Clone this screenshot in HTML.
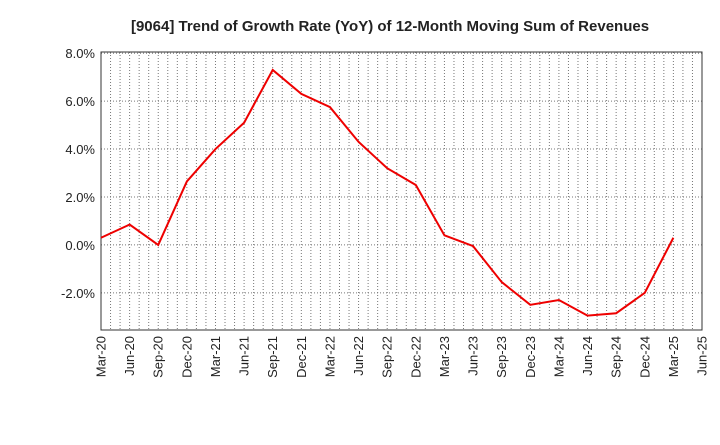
<!DOCTYPE html>
<html><head><meta charset="utf-8"><style>
body{margin:0;background:#fff;font-family:"Liberation Sans",sans-serif}
svg text{font-family:"Liberation Sans",sans-serif}
</style></head><body>
<svg width="720" height="440">
<text x="390" y="31" text-anchor="middle" font-size="15" font-weight="bold" fill="#222">[9064]  Trend of Growth Rate (YoY) of 12-Month Moving Sum of Revenues</text>
<g id="grid"></g><g id="axes"></g><g id="series"></g>
</svg>
<script>
const categories=["Mar-20","Jun-20","Sep-20","Dec-20","Mar-21","Jun-21","Sep-21","Dec-21","Mar-22","Jun-22","Sep-22","Dec-22","Mar-23","Jun-23","Sep-23","Dec-23","Mar-24","Jun-24","Sep-24","Dec-24","Mar-25","Jun-25"];
const values=[0.3,0.85,0.0,2.65,4.0,5.1,7.3,6.3,5.75,4.3,3.2,2.5,0.4,-0.05,-1.55,-2.5,-2.3,-2.95,-2.85,-2.0,0.3];
const yTicks=[-2,0,2,4,6,8];
const yLabels=["-2.0%","0.0%","2.0%","4.0%","6.0%","8.0%"];
const L=101,R=702,T=52,B=330,ymin=-3.55,ymax=8.05;
const x=i=>L+(R-L)*i/(categories.length-1);
const y=v=>B-(v-ymin)/(ymax-ymin)*(B-T);
const NS="http://www.w3.org/2000/svg";
function mk(t,a,p){const e=document.createElementNS(NS,t);for(const k in a)e.setAttribute(k,a[k]);p.appendChild(e);return e;}
const g=document.getElementById('grid'),ax=document.getElementById('axes'),s=document.getElementById('series');
for(let m=1;m<(categories.length-1)*3;m++){const xx=L+(R-L)*m/((categories.length-1)*3);
const l=mk('line',{x1:xx,x2:xx,y1:T,y2:B,stroke:'#777','stroke-dasharray':'1,2','stroke-width':1},g);

}
yTicks.forEach((v,i)=>{const l=mk('line',{x1:L,x2:R,y1:y(v),y2:y(v),stroke:'#777','stroke-dasharray':'1,2'},g);


const t=mk('text',{x:L-6,y:y(v)+5,'text-anchor':'end','font-size':13,fill:'#222'},ax);t.textContent=yLabels[i];

});
const fr=mk('rect',{x:L,y:T,width:R-L,height:B-T,fill:'none',stroke:'#333'},ax);


categories.forEach((c,i)=>{const t=mk('text',{transform:`translate(${x(i)+4.5},${B+6}) rotate(-90)`,'text-anchor':'end','font-size':13,fill:'#222'},ax);t.textContent=c;

});
const p=mk('polyline',{points:values.map((v,i)=>x(i)+','+y(v)).join(' '),fill:'none',stroke:'#e00',"stroke-width":2},s);


</script>
</body></html>
